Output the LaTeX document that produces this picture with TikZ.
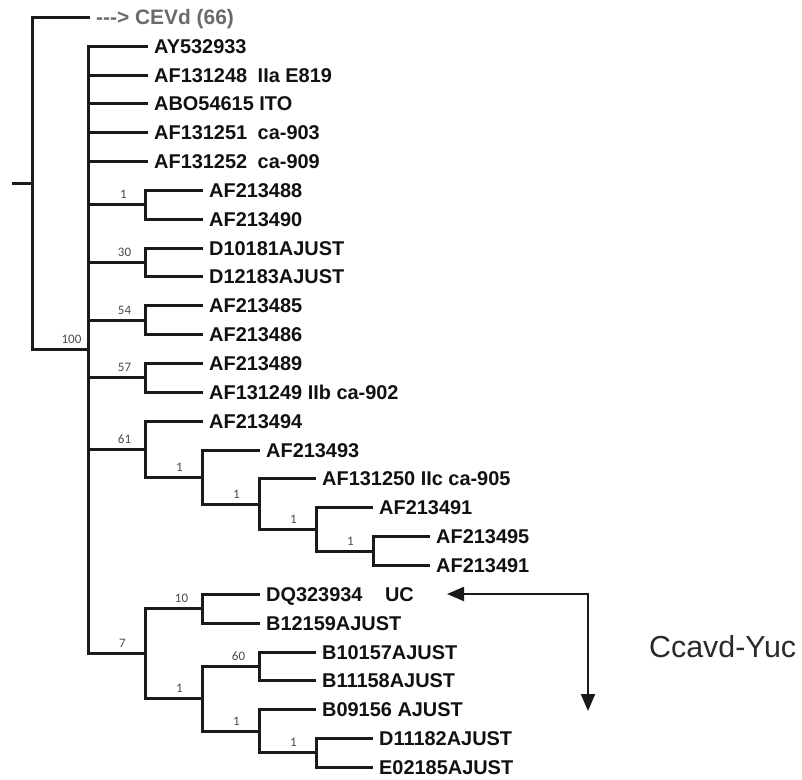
\documentclass[tikz,border=0pt]{standalone}
\usepackage{fontspec}
\setmainfont{Liberation Sans}
\newfontfamily\bootfont{Carlito}
\usetikzlibrary{arrows.meta}
\newcommand\rowY[1]{round(16.8+28.85*#1)+0.5}
\definecolor{treecol}{HTML}{1A1A1A}
\definecolor{txtcol}{HTML}{111111}
\definecolor{bootcol}{HTML}{4A4A4A}
\definecolor{cevdcol}{HTML}{6A6A6A}
\definecolor{labcol}{HTML}{2A2A2A}
\begin{document}
\begin{tikzpicture}[x=1bp,y=-1bp,
  branch/.style={draw=treecol, line width=3bp},
  leaf/.style={anchor=west, inner sep=0pt, xshift=6bp, text=txtcol,
    font=\bfseries\fontsize{20}{21}\selectfont, text height=14.3pt, text depth=0pt},
  cevd/.style={leaf, text=cevdcol, font=\bfseries\fontsize{21}{22}\selectfont, text height=15pt},
  boot/.style={anchor=base, inner sep=0pt, text=bootcol, font=\bootfont\fontsize{13}{13}\selectfont},
  arrowline/.style={draw=treecol, line width=2bp,
    {Triangle[length=17bp,width=14bp]}-{Triangle[length=17bp,width=14bp]}},
]
\useasboundingbox (0,0) rectangle (802,780);
% internal nodes
\coordinate (root) at (32.5,{\rowY{5.765625}});
\coordinate (stub) at (12,{\rowY{5.765625}});
\coordinate (n100) at (88.5,{\rowY{11.53125}});
\coordinate (nA) at (145.5,{\rowY{6.5}});
\coordinate (n30) at (145.5,{\rowY{8.5}});
\coordinate (n54) at (145.5,{\rowY{10.5}});
\coordinate (n57) at (145.5,{\rowY{12.5}});
\coordinate (n61) at (145.5,{\rowY{14.96875}});
\coordinate (n61a) at (202.5,{\rowY{15.9375}});
\coordinate (n61b) at (259.5,{\rowY{16.875}});
\coordinate (n61c) at (316.5,{\rowY{17.75}});
\coordinate (n61d) at (373.5,{\rowY{18.5}});
\coordinate (n7) at (145.5,{\rowY{22.0625}});
\coordinate (n10) at (202.5,{\rowY{20.5}});
\coordinate (n7a) at (202.5,{\rowY{23.625}});
\coordinate (n60) at (259.5,{\rowY{22.5}});
\coordinate (n7b) at (259.5,{\rowY{24.75}});
\coordinate (n7c) at (316.5,{\rowY{25.5}});
% leaf tips
\coordinate (t0) at (90,{\rowY{0}});
\foreach \i in {1,...,5} \coordinate (t\i) at (148,{\rowY{\i}});
\foreach \i in {6,...,14} \coordinate (t\i) at (203,{\rowY{\i}});
\coordinate (t15) at (260,{\rowY{15}});
\coordinate (t16) at (316,{\rowY{16}});
\coordinate (t17) at (373,{\rowY{17}});
\coordinate (t18) at (430,{\rowY{18}});
\coordinate (t19) at (430,{\rowY{19}});
\coordinate (t20) at (260,{\rowY{20}});
\coordinate (t21) at (260,{\rowY{21}});
\coordinate (t22) at (316,{\rowY{22}});
\coordinate (t23) at (316,{\rowY{23}});
\coordinate (t24) at (316,{\rowY{24}});
\coordinate (t25) at (373,{\rowY{25}});
\coordinate (t26) at (373,{\rowY{26}});
% branches
\draw[branch] (stub) -- (root);
\draw[branch] (root) |- (t0);
\draw[branch] (root) |- (n100);
\foreach \c in {t1,t2,t3,t4,t5,nA,n30,n54,n57,n61,n7} \draw[branch] (n100) |- (\c);
\draw[branch] (nA) |- (t6);  \draw[branch] (nA) |- (t7);
\draw[branch] (n30) |- (t8); \draw[branch] (n30) |- (t9);
\draw[branch] (n54) |- (t10); \draw[branch] (n54) |- (t11);
\draw[branch] (n57) |- (t12); \draw[branch] (n57) |- (t13);
\draw[branch] (n61) |- (t14); \draw[branch] (n61) |- (n61a);
\draw[branch] (n61a) |- (t15); \draw[branch] (n61a) |- (n61b);
\draw[branch] (n61b) |- (t16); \draw[branch] (n61b) |- (n61c);
\draw[branch] (n61c) |- (t17); \draw[branch] (n61c) |- (n61d);
\draw[branch] (n61d) |- (t18); \draw[branch] (n61d) |- (t19);
\draw[branch] (n7) |- (n10); \draw[branch] (n7) |- (n7a);
\draw[branch] (n10) |- (t20); \draw[branch] (n10) |- (t21);
\draw[branch] (n7a) |- (n60); \draw[branch] (n7a) |- (n7b);
\draw[branch] (n60) |- (t22); \draw[branch] (n60) |- (t23);
\draw[branch] (n7b) |- (t24); \draw[branch] (n7b) |- (n7c);
\draw[branch] (n7c) |- (t25); \draw[branch] (n7c) |- (t26);
% bootstrap values
\node[boot] (b100) at ([shift={(-17,-6)}]n100) {100};
\node[boot] (bA) at ([shift={(-22,-6)}]nA) {1};
\node[boot] (b30) at ([shift={(-21,-6)}]n30) {30};
\node[boot] (b54) at ([shift={(-21,-6)}]n54) {54};
\node[boot] (b57) at ([shift={(-21,-6)}]n57) {57};
\node[boot] (b61) at ([shift={(-21,-6)}]n61) {61};
\node[boot] (b61a) at ([shift={(-23,-6)}]n61a) {1};
\node[boot] (b61b) at ([shift={(-23,-6)}]n61b) {1};
\node[boot] (b61c) at ([shift={(-23,-6)}]n61c) {1};
\node[boot] (b61d) at ([shift={(-23,-6)}]n61d) {1};
\node[boot] (b7) at ([shift={(-23,-6)}]n7) {7};
\node[boot] (b10) at ([shift={(-21,-6)}]n10) {10};
\node[boot] (b7a) at ([shift={(-23,-6)}]n7a) {1};
\node[boot] (b60) at ([shift={(-21,-6)}]n60) {60};
\node[boot] (b7b) at ([shift={(-23,-6)}]n7b) {1};
\node[boot] (b7c) at ([shift={(-23,-6)}]n7c) {1};
% leaf labels
\node[cevd] (l0) at (t0) {-{}-{}-> CEVd (66)};
\node[leaf] (l1) at (t1) {AY532933};
\node[leaf] (l2) at (t2) {AF131248\hspace{5pt} IIa E819};
\node[leaf] (l3) at (t3) {ABO54615 ITO};
\node[leaf] (l4) at (t4) {AF131251\hspace{5pt} ca-903};
\node[leaf] (l5) at (t5) {AF131252\hspace{5pt} ca-909};
\node[leaf] (l6) at (t6) {AF213488};
\node[leaf] (l7) at (t7) {AF213490};
\node[leaf] (l8) at (t8) {D10181AJUST};
\node[leaf] (l9) at (t9) {D12183AJUST};
\node[leaf] (l10) at (t10) {AF213485};
\node[leaf] (l11) at (t11) {AF213486};
\node[leaf] (l12) at (t12) {AF213489};
\node[leaf] (l13) at (t13) {AF131249 IIb ca-902};
\node[leaf] (l14) at (t14) {AF213494};
\node[leaf] (l15) at (t15) {AF213493};
\node[leaf] (l16) at (t16) {AF131250 IIc ca-905};
\node[leaf] (l17) at (t17) {AF213491};
\node[leaf] (l18) at (t18) {AF213495};
\node[leaf] (l19) at (t19) {AF213491};
\node[leaf] (l20) at (t20) {DQ323934\hspace{17pt} UC};
\node[leaf] (l21) at (t21) {B12159AJUST};
\node[leaf] (l22) at (t22) {B10157AJUST};
\node[leaf] (l23) at (t23) {B11158AJUST};
\node[leaf] (l24) at (t24) {B09156 AJUST};
\node[leaf] (l25) at (t25) {D11182AJUST};
\node[leaf] (l26) at (t26) {E02185AJUST};
% annotation arrow
\coordinate (aL) at (447,{round(16.8+28.85*20)});
\coordinate (aC) at (588,{round(16.8+28.85*20)});
\coordinate (aD) at (588,711);
\draw[arrowline] (aL) -- (aC) -- (aD);
\node[anchor=west, inner sep=0pt, text=labcol, font=\fontsize{30.5}{31}\selectfont,
  text height=21.8pt, text depth=0pt] (cyuc) at (649,647) {Ccavd-Yuc};
\end{tikzpicture}
\end{document}
